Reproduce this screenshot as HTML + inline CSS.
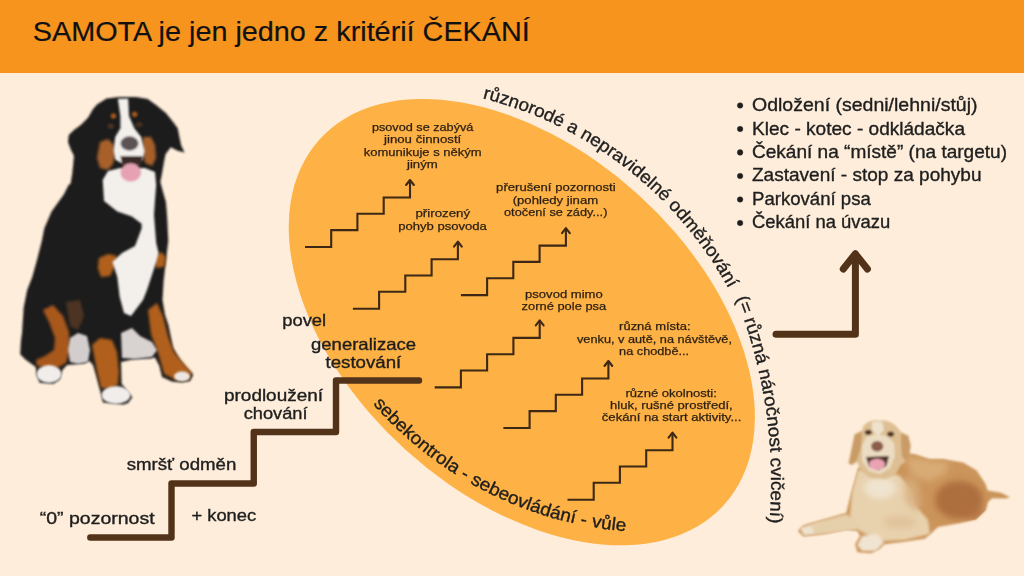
<!DOCTYPE html>
<html><head><meta charset="utf-8">
<style>
html,body{margin:0;padding:0;}
body{width:1024px;height:576px;overflow:hidden;background:#FDEDDA;position:relative;font-family:"Liberation Sans",sans-serif;}
#hdr{position:absolute;left:0;top:0;width:1024px;height:73px;background:#F7941E;}
svg{position:absolute;left:0;top:0;}
</style></head>
<body>
<div id="hdr"></div>
<svg width="1024" height="576" viewBox="0 0 1024 576" font-family="Liberation Sans, sans-serif">
<defs>
<g id="st" fill="none" stroke="#3D2816" stroke-width="2.1">
<path d="M0,0 H26.2 V-16.9 H52.4 V-33.2 H78.7 V-49.5 H105 V-66"/>
<path d="M101.1,-62 L105,-67 L108.9,-62" stroke-linejoin="round" stroke-linecap="round"/>
</g>
</defs>
<!-- bernese dog -->
<defs>
<filter id="soft" x="-10%" y="-10%" width="120%" height="120%"><feGaussianBlur stdDeviation="0.8"/></filter>
<filter id="soft2" x="-20%" y="-20%" width="140%" height="140%"><feGaussianBlur stdDeviation="1.6"/></filter>
<filter id="soft3" x="-30%" y="-30%" width="160%" height="160%"><feGaussianBlur stdDeviation="3"/></filter>
</defs>
<g id="bern">
<path fill="#1D1A1E" filter="url(#soft)" d="M118.7,97 L136,97 L147.7,99 L156,105 L165.9,113.1 L172.5,121.2 L177.7,128.2 L179.4,136.9 L181.2,145.6 L184.6,152.5 L177.7,150.8 L170.8,147.3 L165.5,154.2 L163.8,163 L162,173.3 L160.3,182 L163,192 L165.9,201.9 L167.1,216.5 L168.3,240.8 L165.9,260.2 L163.5,282 L162.5,300 L165,315 L168.4,325 L173,347.7 L180,360 L186.5,368 L193.2,374.8 L190,381 L182,382.5 L172,381.5 L162,377 L159.4,365.7 L155,357.5 L150.4,358.5 L132.3,359.5 L121,362 L121.5,383.8 L132.3,397.3 L128,403 L123.3,404.5 L103,402.5 L100.7,392.8 L96,375 L93,365 L89.5,361 L84.4,363.5 L67,365 L62.4,370 L60,379.3 L53.4,383.8 L39.8,382.7 L36.4,374.8 L35.8,367 L25.4,359.4 L20.2,354.2 L21,340 L22,333.4 L23.7,307.4 L27.2,290 L32.2,277.3 L37,260 L41.9,240.8 L44.3,228.6 L51.6,211.6 L63.8,194.6 L68.6,185 L70.6,183.7 L72.3,173.3 L73.2,164.7 L74,156 L70.6,149 L68,142 L68.8,135 L74,130 L81,124.7 L88,117.8 L93.1,109 L97,104.5 L106.5,98.5 Z"/>
<g filter="url(#soft2)">
<path fill="#A9591C" d="M43,310 L53,305 L63,316 L69,332 L70,350 L66,363 L57,368 L46,368 L37,366 L36,360 L45,356 L54,350 L55,338 L49,322 Z"/>
<path fill="#6E4326" opacity="0.6" d="M66,302 L80,300 L84,316 L78,330 L70,326 Z"/>
<path fill="#B0601F" d="M92,345 L100,338 L112,340 L117,352 L119,372 L118,385 L110,389 L101,388 L97,372 Z"/>
<path fill="#B0601F" d="M148,310 L157,303 L163,316 L168,336 L174,352 L184,364 L192,373 L188,380 L176,380 L164,374 L159,356 L151,334 Z"/>
<path fill="#B0601F" d="M99,258 L108,254 L117,256 L115,266 L110,276 L101,277 L97.8,268 Z"/>
<path fill="#B0601F" d="M154,256 L162,252 L166,258 L164,267 L156,268 Z"/>
<path fill="#A8602B" d="M100,142 L108,139 L114,145 L115,155 L113,164 L108,170 L100,168 L97,158 Z"/>
<path fill="#A8602B" d="M143,137 L151,137 L155,145 L156,158 L152,166 L145,163 L143,152 Z"/>
</g>
<g filter="url(#soft)">
<circle cx="113.5" cy="116" r="2.8" fill="#A0561E"/>
<circle cx="134.7" cy="114.3" r="2.8" fill="#A0561E"/>
<path fill="#F3EFEB" d="M117.8,98.7 L128.2,98.5 L129,116 L134.3,128.2 L141.2,136.9 L144.7,150.8 L143,159.4 L138,163 L121,163 L115.2,159.4 L113.5,150.8 L115.2,136.9 L120.4,128.2 L120.4,116 Z"/>
<path fill="#F3EFEB" d="M102.7,180 L108,171 L120,168 L145,168 L155,172 L156.2,185 L155,200 L154,215 L156.2,243 L158.6,253 L156.2,262 L151.3,277 L147,290 L143,300 L131,316 L124,313 L119.7,297 L117.3,277 L112.4,262 L122,253 L135,246 L141.6,228.6 L141.6,223.8 L131.9,216.5 L117.3,211.6 L104,201 Z"/>
<ellipse cx="49" cy="374" rx="12.5" ry="9" fill="#F1EDEB"/>
<ellipse cx="116" cy="395" rx="14.5" ry="9" fill="#F1EDEB"/>
<ellipse cx="182" cy="376.5" rx="8" ry="5" fill="#ECE7E5"/>
<path fill="#D8D2D0" d="M121,333 L132,328 L140,336 L152,342 L157,350 L152,357 L135,359 L122,358 Z"/>
<path fill="#D3CECD" d="M70,338 L78,333 L87,336 L90,350 L88,362 L78,364 L70,362 L68,350 Z"/>
<ellipse cx="129.5" cy="143.5" rx="9" ry="7.2" fill="#5C5354"/>
<path fill="#3A2A26" d="M120.4,156 L143,156 L141,165 L122,165 Z"/>
<ellipse cx="130.8" cy="172.5" rx="10.4" ry="9.2" fill="#E6A2B3"/>
<ellipse cx="110.8" cy="126.3" rx="3.2" ry="2.7" fill="#4A3022"/>
<ellipse cx="139.3" cy="124.6" rx="3.4" ry="2.7" fill="#4A3022"/>
</g>
</g>
<!-- golden retriever -->
<defs><clipPath id="gclip"><path d="M900,452 L915.8,454.5 L929.3,459 L942.7,459 L963,462.4 L976.4,470.2 L985.4,483.7 L987.7,490.4 L1001,492.7 L1010,497.2 L1005.6,498.5 L992,498.3 L988,502 L986,510 L976,519.5 L958,523.5 L938,527 L931.5,533.1 L924.8,538.7 L902.3,542.1 L884.3,544.3 L879.8,548.8 L870.9,553.3 L857.4,552.2 L855.1,544.3 L860,536 L857.4,530.9 L846.2,529.7 L823.7,534.2 L803.5,536.5 L797.9,530.9 L803.5,525.2 L823.7,519.6 L846.2,512.9 L850.6,495 L855.1,479.2 L858,468 L870,462 L895,458 Z"/></clipPath></defs>
<g id="gold">
<path fill="#CB945A" filter="url(#soft)" d="M900,452 L915.8,454.5 L929.3,459 L942.7,459 L963,462.4 L976.4,470.2 L985.4,483.7 L987.7,490.4 L1001,492.7 L1010,497.2 L1005.6,498.5 L992,498.3 L988,502 L986,510 L976,519.5 L958,523.5 L938,527 L931.5,533.1 L924.8,538.7 L902.3,542.1 L884.3,544.3 L879.8,548.8 L870.9,553.3 L857.4,552.2 L855.1,544.3 L860,536 L857.4,530.9 L846.2,529.7 L823.7,534.2 L803.5,536.5 L797.9,530.9 L803.5,525.2 L823.7,519.6 L846.2,512.9 L850.6,495 L855.1,479.2 L858,468 L870,462 L895,458 Z"/>
<g clip-path="url(#gclip)">
<g filter="url(#soft3)">
<ellipse cx="959" cy="500" rx="24" ry="19" fill="#A9673A" opacity="0.85"/>
<path fill="#D8AA74" d="M905,456 L930,460 L950,462 L945,474 L928,482 L912,476 Z"/>
<ellipse cx="975" cy="515" rx="14" ry="6" fill="#B07045" opacity="0.6"/>
</g>
<g filter="url(#soft2)">
<path fill="#E8D1AD" d="M858,470 L880,468 L900,476 L912,490 L916,506 L928,520 L930,534 L905,540 L884,541 L870,536 L858,530 L850,515 L852,492 Z"/>
<path fill="#E6CFAB" d="M846,514 L856,520 L857,530 L835,533 L812,535 L802,533 L800,528 L815,522 Z"/>
<path fill="#F0E4D2" d="M862,536 L878,534 L884,543 L876,551 L862,551 L857,545 Z"/>
<path fill="#EFE2CE" d="M800,527 L812,526 L814,534 L804,536 Z"/>
</g>
<g filter="url(#soft3)">
<ellipse cx="880" cy="488" rx="16" ry="11" fill="#F1E5D3" opacity="0.9"/>
<path d="M905,475 L918,482 L922,505 L915,512 L905,500 Z" fill="#D7AE7D" opacity="0.8"/>
<ellipse cx="900" cy="522" rx="16" ry="6" fill="#DDBC92" opacity="0.7"/>
</g>
</g>
<g filter="url(#soft)">
<path fill="#DDBF93" d="M863.2,426 Q868,421 873,420.5 L885,420.5 Q892,422 896,426 L901,432 L908.2,435.7 L910.6,445.4 L909.4,455 L905.7,461.2 L900,466 L896,474 L886,479 L870,478 L861,471 L857,462 L852.3,464.8 L848.6,463.6 L849.9,457.5 L852.3,445.4 L854.7,434.4 L862,430.8 Z"/>
<path fill="#ECDCC3" d="M866,437 L876,434 L887,436 L894,443 L895,456 L890,468 L880,474 L869,471 L862,461 L862,446 Z"/>
<path fill="#EEE2CF" d="M872,422 L882,421.5 L884,430 L878,436 L872,430 Z"/>
<path fill="#C99B66" d="M854.7,434.4 L862,431 L861,447 L857,460 L852.3,464.8 L848.6,463.6 L849.9,457.5 L852.3,445.4 Z"/>
<path fill="#C99B66" d="M901,433 L908.2,435.7 L910.6,445.4 L909.4,455 L905.7,461.2 L902,456 L901,444 Z"/>
<path fill="#4A3028" d="M866,457 L889,456 L886.5,466 L878,470.5 L869,466.5 Z"/>
<ellipse cx="877" cy="464.3" rx="8" ry="5.6" fill="#EBA3B3"/>
<ellipse cx="877.2" cy="446.2" rx="6.1" ry="5.2" fill="#8A5C48"/>
<ellipse cx="868.3" cy="432.3" rx="3.5" ry="2.6" fill="#4A2E20"/>
<ellipse cx="890.6" cy="434.1" rx="3.5" ry="2.6" fill="#4A2E20"/>
</g>
</g>
<!-- title -->
<text x="32.8" y="41.2" font-size="27" fill="#111" stroke="#111" stroke-width="0.2" textLength="497" lengthAdjust="spacingAndGlyphs">SAMOTA je jen jedno z kritérií ČEKÁNÍ</text>

<!-- ellipse -->
<g transform="translate(521.8,322.1) rotate(42.09)">
<ellipse cx="0" cy="0" rx="272.6" ry="172.7" fill="#FEB144"/>
</g>

<!-- small staircases -->
<use href="#st" transform="translate(305,247)"/>
<use href="#st" transform="translate(352.9,308.7)"/>
<use href="#st" transform="translate(460.9,295.1)"/>
<use href="#st" transform="translate(434.7,387.4)"/>
<use href="#st" transform="translate(503.4,428)"/>
<use href="#st" transform="translate(567.5,499.7)"/>

<!-- big staircase -->
<path d="M90.3,537.5 H171.5 V483.5 H253.75 V432 H336 V380.5 H419" fill="none" stroke="#523219" stroke-width="6.4" stroke-linecap="round" stroke-linejoin="round"/>
<!-- right arrow -->
<path d="M776,334.2 H855.4 V254 M843.3,269 L855.4,253.8 L867.4,269" fill="none" stroke="#523219" stroke-width="7" stroke-linecap="round" stroke-linejoin="round"/>

<!-- ellipse labels -->
<g font-size="10.8" fill="#2B1F14" stroke="#2B1F14" stroke-width="0.25">
<text x="371.9" y="130.8" textLength="101.5" lengthAdjust="spacingAndGlyphs">psovod se zabývá</text>
<text x="384" y="143.1" textLength="77.3" lengthAdjust="spacingAndGlyphs">jinou činností</text>
<text x="363.7" y="155.6" textLength="117.9" lengthAdjust="spacingAndGlyphs">komunikuje s někým</text>
<text x="407" y="167.8" textLength="30.8" lengthAdjust="spacingAndGlyphs">jiným</text>
<text x="415.4" y="217" textLength="54.8" lengthAdjust="spacingAndGlyphs">přirozený</text>
<text x="398.3" y="230" textLength="88.6" lengthAdjust="spacingAndGlyphs">pohyb psovoda</text>
<text x="496.1" y="191.4" textLength="119.6" lengthAdjust="spacingAndGlyphs">přerušení pozornosti</text>
<text x="512.7" y="204" textLength="85.5" lengthAdjust="spacingAndGlyphs">(pohledy jinam</text>
<text x="504" y="216.2" textLength="103.4" lengthAdjust="spacingAndGlyphs">otočení se zády...)</text>
<text x="525" y="297.5" textLength="77.8" lengthAdjust="spacingAndGlyphs">psovod mimo</text>
<text x="521.6" y="309.5" textLength="84.6" lengthAdjust="spacingAndGlyphs">zorné pole psa</text>
<text x="619.1" y="330.3" textLength="71.4" lengthAdjust="spacingAndGlyphs">různá místa:</text>
<text x="577" y="342.7" textLength="155" lengthAdjust="spacingAndGlyphs">venku, v autě, na návštěvě,</text>
<text x="619.1" y="354.7" textLength="70" lengthAdjust="spacingAndGlyphs">na chodbě...</text>
<text x="625.5" y="396.5" textLength="91.4" lengthAdjust="spacingAndGlyphs">různé okolnosti:</text>
<text x="610.1" y="408.6" textLength="122.6" lengthAdjust="spacingAndGlyphs">hluk, rušné prostředí,</text>
<text x="601.8" y="420.6" textLength="139.5" lengthAdjust="spacingAndGlyphs">čekání na start aktivity...</text>
</g>

<!-- stair labels -->
<g font-size="16.5" fill="#1E1E1E" stroke="#1E1E1E" stroke-width="0.35">
<text x="39.8" y="524" textLength="114.8" lengthAdjust="spacingAndGlyphs">“0” pozornost</text>
<text x="191.4" y="520.7" textLength="64.8" lengthAdjust="spacingAndGlyphs">+ konec</text>
<text x="126.7" y="470" textLength="109.7" lengthAdjust="spacingAndGlyphs">smršť odměn</text>
<text x="224" y="401" textLength="99" lengthAdjust="spacingAndGlyphs">prodloužení</text>
<text x="243.7" y="418.7" textLength="63.8" lengthAdjust="spacingAndGlyphs">chování</text>
<text x="282.2" y="325.8" textLength="44" lengthAdjust="spacingAndGlyphs">povel</text>
<text x="311" y="350" textLength="105" lengthAdjust="spacingAndGlyphs">generalizace</text>
<text x="325.5" y="368.3" textLength="75.7" lengthAdjust="spacingAndGlyphs">testování</text>
</g>

<!-- bullets -->
<g font-size="18.2" fill="#1E1E1E" stroke="#1E1E1E" stroke-width="0.35">
<text x="752" y="111.1" textLength="225.5" lengthAdjust="spacingAndGlyphs">Odložení (sedni/lehni/stůj)</text>
<text x="752" y="134.5" textLength="213" lengthAdjust="spacingAndGlyphs">Klec - kotec - odkládačka</text>
<text x="752" y="157.7" textLength="255" lengthAdjust="spacingAndGlyphs">Čekání na “místě” (na targetu)</text>
<text x="752" y="181.3" textLength="229.5" lengthAdjust="spacingAndGlyphs">Zastavení - stop za pohybu</text>
<text x="752" y="204.7" textLength="118.8" lengthAdjust="spacingAndGlyphs">Parkování psa</text>
<text x="752" y="228.4" textLength="138.2" lengthAdjust="spacingAndGlyphs">Čekání na úvazu</text>
<circle cx="740.1" cy="105.5" r="2.8"/>
<circle cx="740.1" cy="129" r="2.8"/>
<circle cx="740.1" cy="152.4" r="2.8"/>
<circle cx="740.1" cy="176" r="2.8"/>
<circle cx="740.1" cy="199.5" r="2.8"/>
<circle cx="740.1" cy="223" r="2.8"/>
</g>

<!-- curved texts -->
<path id="arc1" d="M483.84,98.66 A388.3,388.3 0 0 1 752.68,342.09" fill="none"/>
<path id="arc2" d="M734.96,295.64 A491.9,491.9 0 0 1 763.63,566.12" fill="none"/>
<path id="arc3" d="M372.03,405.92 A377.7,377.7 0 0 0 685.02,528.76" fill="none"/>
<g font-size="18" fill="#1E1E1E" stroke="#1E1E1E" stroke-width="0.35">
<text><textPath href="#arc1" startOffset="-1.5" textLength="320" lengthAdjust="spacingAndGlyphs">různorodé a nepravidelné odměňování</textPath></text>
<text><textPath href="#arc2" startOffset="3" textLength="229" lengthAdjust="spacingAndGlyphs">(= různá náročnost cvičení)</textPath></text>
<text transform="rotate(0.9 500 465)"><textPath href="#arc3" textLength="290" lengthAdjust="spacingAndGlyphs">sebekontrola - sebeovládání - vůle</textPath></text>
</g>

</svg>
</body></html>
